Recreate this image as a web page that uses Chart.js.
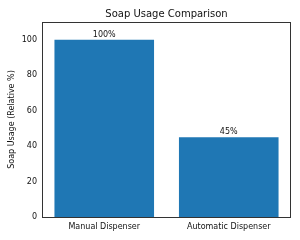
<!DOCTYPE html>
<html>
<head>
<meta charset="utf-8">
<script src="https://cdn.jsdelivr.net/npm/chart.js@4"></script>
<style>
html,body{margin:0;padding:0;background:#fff;}
#wrap{width:300px;height:240px;}
</style>
</head>
<body>
<div id="wrap"><canvas id="c" width="300" height="240"></canvas></div>
<script>
const categories = ["Manual Dispenser", "Automatic Dispenser"];
const soapUsage = [100, 45];
const valueLabels = ["100%", "45%"];
const yTicks = [0, 20, 40, 60, 80, 100];
const chartTitle = "Soap Usage Comparison";

const FONT = "'DejaVu Sans', sans-serif";
const TXT = '#111';

const framePlugin = {
  id: 'frame',
  afterDatasetsDraw(chart) {
    const {ctx, chartArea: a} = chart;
    ctx.save();
    ctx.strokeStyle = '#333';
    ctx.lineWidth = 1;
    ctx.strokeRect(Math.round(a.left) + 0.5, Math.round(a.top) + 0.5,
      Math.round(a.right - a.left) - 1, Math.round(a.bottom - a.top));
    // title centred over the plot area
    ctx.fillStyle = TXT;
    ctx.font = "10px " + FONT;
    ctx.textAlign = 'center';
    ctx.textBaseline = 'middle';
    ctx.fillText(chartTitle, (a.left + a.right) / 2, 14);
    // value labels
    const meta = chart.getDatasetMeta(0);
    ctx.font = "8px " + FONT;
    ctx.textBaseline = 'bottom';
    meta.data.forEach((bar, i) => {
      ctx.fillText(valueLabels[i], bar.x, bar.y - 1);
    });
    ctx.restore();
  }
};

new Chart(document.getElementById('c'), {
  type: 'bar',
  data: {
    labels: categories,
    datasets: [{
      data: soapUsage,
      backgroundColor: '#1f77b4',
      borderWidth: 0,
      barPercentage: 0.8,
      categoryPercentage: 1.0
    }]
  },
  options: {
    responsive: false,
    animation: false,
    devicePixelRatio: 1,
    layout: { padding: { left: 0, right: 9, top: 22, bottom: 0 } },
    plugins: {
      legend: { display: false },
      tooltip: { enabled: false },
      title: { display: false }
    },
    scales: {
      x: {
        grid: { display: false, drawTicks: true, tickLength: 3, color: '#333' },
        border: { display: false },
        ticks: { color: TXT, font: { family: FONT, size: 8 }, padding: 2, maxRotation: 0 },
        afterFit(s) { s.height = 23; }
      },
      y: {
        min: 0, max: 110,
        grid: { display: false, drawTicks: true, tickLength: 3, color: '#333' },
        border: { display: false },
        afterBuildTicks(s) { s.ticks = yTicks.map(v => ({ value: v })); },
        ticks: { color: TXT, font: { family: FONT, size: 8 }, padding: 2 },
        title: {
          display: true,
          text: 'Soap Usage (Relative %)',
          color: TXT,
          font: { family: FONT, size: 8 },
          padding: { top: 7, bottom: 2 }
        },
        afterFit(s) { s.width = 42; }
      }
    }
  },
  plugins: [framePlugin]
});
</script>
</body>
</html>
